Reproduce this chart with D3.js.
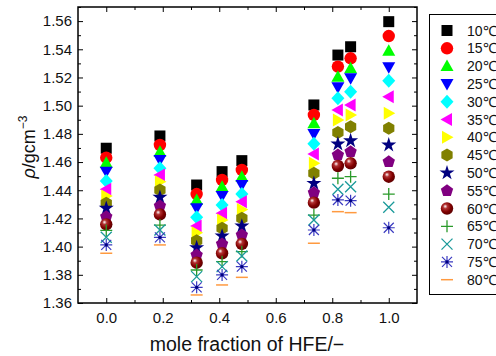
<!DOCTYPE html>
<html>
<head>
<meta charset="utf-8">
<script src="https://cdn.jsdelivr.net/npm/d3@7"></script>
<style>
  body { margin: 0; background: #fff; }
  svg { display: block; font-family: "Liberation Sans", Arial, sans-serif; }
</style>
</head>
<body>
<div id="chart"></div>
<script>
// mole fraction of HFE for each mixture
const fractions = [0.0, 0.19, 0.32, 0.41, 0.48, 0.735, 0.82, 0.865, 1.0];
const temps = ['10', '15', '20', '25', '30', '35', '40', '45', '50', '55', '60', '65', '70', '75', '80'];

// density (g/cm3), one array per temperature, same order as fractions
const rho10 = [1.4698, 1.4785, 1.4437, 1.4532, 1.4610, 1.5005, 1.5359, 1.5418, 1.5596];
const rho15 = [1.4631, 1.4721, 1.4373, 1.4473, 1.4544, 1.4934, 1.5277, 1.5336, 1.5494];
const rho20 = [1.4595, 1.4673, 1.4331, 1.4425, 1.4496, 1.4875, 1.5206, 1.5265, 1.5390];
const rho25 = [1.4532, 1.4615, 1.4272, 1.4359, 1.4437, 1.4799, 1.5130, 1.5194, 1.5272];
const rho30 = [1.4466, 1.4556, 1.4208, 1.4295, 1.4373, 1.4730, 1.5052, 1.5099, 1.5177];
const rho35 = [1.4407, 1.4508, 1.4146, 1.4236, 1.4319, 1.4657, 1.4969, 1.5005, 1.5064];
const rho40 = [1.4360, 1.4461, 1.4099, 1.4189, 1.4264, 1.4591, 1.4898, 1.4934, 1.4946];
const rho45 = [1.4307, 1.4402, 1.4042, 1.4130, 1.4201, 1.4520, 1.4810, 1.4851, 1.4839];
const rho50 = [1.4272, 1.4350, 1.3992, 1.4075, 1.4146, 1.4449, 1.4728, 1.4751, 1.4721];
const rho55 = [1.4212, 1.4288, 1.3941, 1.4019, 1.4082, 1.4383, 1.4650, 1.4673, 1.4602];
const rho60 = [1.4158, 1.4228, 1.3886, 1.3953, 1.4019, 1.4312, 1.4572, 1.4591, 1.4496];
const rho65 = [1.4115, 1.4153, 1.3834, 1.3893, 1.3964, 1.4224, 1.4485, 1.4496, 1.4373];
const rho70 = [1.4066, 1.4118, 1.3787, 1.3858, 1.3933, 1.4189, 1.4407, 1.4425, 1.4279];
const rho75 = [1.4012, 1.4066, 1.3711, 1.3799, 1.3858, 1.4118, 1.4331, 1.4326, 1.4134];
const rho80 = [1.3953, 1.4012, 1.3657, 1.3728, 1.3782, 1.4024, 1.4248, 1.4241, null];

const series = [rho10, rho15, rho20, rho25, rho30, rho35, rho40, rho45,
  rho50, rho55, rho60, rho65, rho70, rho75, rho80];

const xTicks = [0.0, 0.2, 0.4, 0.6, 0.8, 1.0];
const yTicks = [1.36, 1.38, 1.40, 1.42, 1.44, 1.46, 1.48, 1.50, 1.52, 1.54, 1.56];

const width = 496, height = 356;
const plotL = 78, plotR = 417, plotT = 7, plotB = 303;

const svg = d3.select('#chart').append('svg')
  .attr('width', width)
  .attr('height', height);

const defs = svg.append('defs');
const grad = defs.append('radialGradient')
  .attr('id', 'ball').attr('cx', '40%').attr('cy', '38%').attr('r', '60%')
  .attr('fx', '35%').attr('fy', '32%');
grad.append('stop').attr('offset', '0%').attr('stop-color', '#ffffff');
grad.append('stop').attr('offset', '30%').attr('stop-color', '#b03030');
grad.append('stop').attr('offset', '70%').attr('stop-color', '#800000');
grad.append('stop').attr('offset', '100%').attr('stop-color', '#600000');

const x = d3.scaleLinear().domain([-0.1, 1.1]).range([plotL, plotR]);
const y = d3.scaleLinear().domain([1.36, 1.57]).range([plotB, plotT]);

// polygon helper
function poly(pts) {
  const p = d3.path();
  pts.forEach((q, i) => i ? p.lineTo(q[0], q[1]) : p.moveTo(q[0], q[1]));
  p.closePath();
  return p.toString();
}
function ngon(n, r, start) {
  return poly(d3.range(n).map(k => {
    const a = (start + k * 360 / n) * Math.PI / 180;
    return [r * Math.cos(a), r * Math.sin(a)];
  }));
}

// draw marker i into group g
function marker(g, i) {
  switch (i) {
    case 0: g.append('path').attr('d', poly([[-5.5, -5.5], [5.5, -5.5], [5.5, 5.5], [-5.5, 5.5]])).attr('fill', '#000'); break;
    case 1: g.append('circle').attr('r', 6.2).attr('fill', '#ff0000'); break;
    case 2: g.append('path').attr('d', poly([[0, -6.5], [6.5, 5], [-6.5, 5]])).attr('fill', '#00ff00'); break;
    case 3: g.append('path').attr('d', poly([[0, 6.5], [6.5, -5], [-6.5, -5]])).attr('fill', '#0000ff'); break;
    case 4: g.append('path').attr('d', poly([[0, -7], [6.5, 0], [0, 7], [-6.5, 0]])).attr('fill', '#00ffff'); break;
    case 5: g.append('path').attr('d', poly([[-6.5, 0], [5, -6.5], [5, 6.5]])).attr('fill', '#ff00ff'); break;
    case 6: g.append('path').attr('d', poly([[6.5, 0], [-5, -6.5], [-5, 6.5]])).attr('fill', '#ffff00'); break;
    case 7: g.append('path').attr('d', ngon(6, 6.5, -90)).attr('fill', '#808000'); break;
    case 8: g.append('path').attr('d', d3.symbol(d3.symbolStar, 70)()).attr('fill', '#000080'); break;
    case 9: g.append('path').attr('d', ngon(5, 6.5, -90)).attr('fill', '#800080'); break;
    case 10: g.append('circle').attr('r', 6.2).attr('fill', 'url(#ball)'); break;
    case 11: g.append('path').attr('d', 'M-6,0H6M0,-6V6').attr('stroke', '#2a9a2a').attr('stroke-width', 1.3); break;
    case 12: g.append('path').attr('d', 'M-5.5,-5.5L5.5,5.5M-5.5,5.5L5.5,-5.5').attr('stroke', '#1a9a9a').attr('stroke-width', 1.3); break;
    case 13:
      g.append('path').attr('d', 'M-6,0H6M0,-6V6M-5,-5L5,5M-5,5L5,-5').attr('stroke', '#3a3ac0').attr('stroke-width', 1.2);
      g.append('circle').attr('r', 1.6).attr('fill', '#000080');
      break;
    case 14: g.append('path').attr('d', 'M-6,0H6').attr('stroke', '#ff9a40').attr('stroke-width', 1.5); break;
  }
}

// data points, later temperatures on top
series.forEach((vals, i) => {
  vals.forEach((v, j) => {
    if (v == null) return;
    const g = svg.append('g').attr('transform', `translate(${x(fractions[j])},${y(v)})`);
    marker(g, i);
  });
});

// frame and ticks
const axes = svg.append('g');
const yMinor = d3.range(1.37, 1.571, 0.02);
const xMinor = d3.range(-0.1, 1.11, 0.2);

axes.append('g').attr('transform', `translate(${plotL},0)`)
  .call(d3.axisLeft(y).tickValues(yTicks).tickFormat(d3.format('.2f')).tickSizeInner(-5).tickSizeOuter(0).tickPadding(6))
  .call(g => g.select('.domain').remove());
axes.append('g').attr('transform', `translate(${plotL},0)`)
  .call(d3.axisLeft(y).tickValues(yMinor).tickFormat('').tickSizeInner(-3).tickSizeOuter(0))
  .call(g => g.select('.domain').remove());
axes.append('g').attr('transform', `translate(${plotR},0)`)
  .call(d3.axisRight(y).tickValues(yTicks).tickFormat('').tickSizeInner(-5).tickSizeOuter(0))
  .call(g => g.select('.domain').remove());
axes.append('g').attr('transform', `translate(${plotR},0)`)
  .call(d3.axisRight(y).tickValues(yMinor).tickFormat('').tickSizeInner(-3).tickSizeOuter(0))
  .call(g => g.select('.domain').remove());

axes.append('g').attr('transform', `translate(0,${plotB})`)
  .call(d3.axisBottom(x).tickValues(xTicks).tickFormat(d3.format('.1f')).tickSizeInner(-5).tickSizeOuter(0).tickPadding(9))
  .call(g => g.select('.domain').remove());
axes.append('g').attr('transform', `translate(0,${plotB})`)
  .call(d3.axisBottom(x).tickValues(xMinor.slice(1, -1)).tickFormat('').tickSizeInner(-3).tickSizeOuter(0))
  .call(g => g.select('.domain').remove());
axes.append('g').attr('transform', `translate(0,${plotT})`)
  .call(d3.axisTop(x).tickValues(xTicks).tickFormat('').tickSizeInner(-5).tickSizeOuter(0))
  .call(g => g.select('.domain').remove());
axes.append('g').attr('transform', `translate(0,${plotT})`)
  .call(d3.axisTop(x).tickValues(xMinor.slice(1, -1)).tickFormat('').tickSizeInner(-3).tickSizeOuter(0))
  .call(g => g.select('.domain').remove());

axes.selectAll('.tick text')
  .attr('fill', '#111')
  .attr('font-size', 15)
  .attr('font-family', '"Liberation Sans", Arial, sans-serif');
axes.selectAll('.tick line').attr('stroke', '#000');

svg.append('rect')
  .attr('x', plotL).attr('y', plotT)
  .attr('width', plotR - plotL).attr('height', plotB - plotT)
  .attr('fill', 'none').attr('stroke', '#000').attr('stroke-width', 1.5);

// axis titles
svg.append('text')
  .attr('x', 247).attr('y', 351)
  .attr('text-anchor', 'middle').attr('font-size', 19.5).attr('fill', '#111')
  .text('mole fraction of HFE/−');

const yl = svg.append('text')
  .attr('transform', 'translate(35,147) rotate(-90)')
  .attr('text-anchor', 'middle').attr('font-size', 18).attr('fill', '#111');
yl.append('tspan').attr('font-style', 'italic').text('ρ');
yl.append('tspan').text('/gcm');
yl.append('tspan').attr('font-size', 12).attr('dy', -8).text('−3');

// legend
const legend = svg.append('g');
legend.append('rect')
  .attr('x', 429.5).attr('y', 14.5).attr('width', 80).attr('height', 280)
  .attr('fill', '#fff').attr('stroke', '#000').attr('stroke-width', 1);
temps.forEach((t, i) => {
  const ly = 30.5 + i * 17.8;
  const g = legend.append('g').attr('transform', `translate(447,${ly})`);
  marker(g, i);
  legend.append('text')
    .attr('x', 467).attr('y', ly).attr('dy', '0.36em')
    .attr('font-size', 14).attr('fill', '#111')
    .text(t + '℃');
});
</script>
</body>
</html>
